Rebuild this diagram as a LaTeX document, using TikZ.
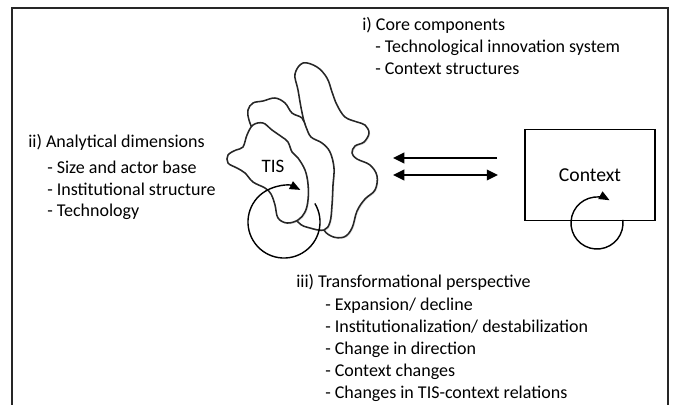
\documentclass[tikz,border=0pt]{standalone}
\usepackage{fontspec}
\setmainfont{Carlito}
\usetikzlibrary{arrows.meta,shadows}

\tikzset{
  txt/.style={anchor=base west,inner sep=0pt,font=\fontsize{12.8}{15}\selectfont},
  blob/.style={draw=black!85,line width=1.1pt,fill=white,
    drop shadow={shadow xshift=0.8pt,shadow yshift=-0.8pt,opacity=0.25}},
  link/.style={line width=1.4pt},
  cyc/.style={line width=1pt,-{Triangle[length=7.5pt,width=6pt]}}
}

\begin{document}
\begin{tikzpicture}[x=0.025cm,y=-0.025cm,>={Triangle[length=8pt,width=7.5pt]}]
  \useasboundingbox (0,0) rectangle (673,404);
  % frame, open at the bottom
  \draw[line width=1.2pt,black!85] (12,420) -- (12,8) -- (668,8) -- (668,420);

  % blobs, back to front
  \draw[blob] plot[smooth cycle,tension=0.6] coordinates {(303,63) (317,67) (327,78) (332,92) (337,105) (345,117)
    (357,122) (365,125) (369,133) (364,142) (355,146) (352,153) (357,159) (370,165) (377,176) (375,190)
    (365,199) (357,211) (352,228) (344,237) (331,236) (322,225) (318,190) (314,160) (303,117) (298,90) (295,74)};
  \draw[blob] plot[smooth cycle,tension=0.6] coordinates {(249,120) (248,110) (253,103) (263,101) (275,98) (285,103)
    (292,113) (302,118) (306,127) (311,137) (322,143) (330,152) (334,168) (333,185) (332,205) (330,222)
    (324,230) (310,228) (298,222) (285,200) (270,170) (255,135)};
  \draw[blob] plot[smooth cycle,tension=0.6] coordinates {(247,135) (253,125) (263,123) (272,130) (282,137) (288,142)
    (292,152) (298,158) (305,170) (308,184) (308,200) (305,212) (298,220) (287,223) (278,218) (275,205)
    (271,194) (265,188) (253,182) (245,173) (237,168) (228,163) (228,155) (236,150) (243,147)};
  \node[font=\fontsize{13.5}{15}\selectfont] (tis) at (273,166) {TIS};

  % context
  \node[draw,line width=0.9pt,minimum width=3.25cm,minimum height=2.275cm,
    font=\fontsize{14}{16}\selectfont] (ctx) at (590,175) {Context};

  % self loops
  \coordinate (tisc) at (284,222);
  \coordinate (ctxc) at (597,223);
  \draw[cyc] (tisc) ++(31:0.9cm) arc[start angle=31,end angle=-297,radius=0.9cm];
  \draw[cyc] (ctxc) ++(7:0.65cm) arc[start angle=7,end angle=-299,radius=0.65cm];

  % links
  \coordinate (in1) at (497,158);
  \coordinate (out1) at (393,158);
  \coordinate (in2) at (393,175);
  \coordinate (out2) at (498,175);
  \draw[link,->] (in1) -- (out1);
  \draw[link,<->] (in2) -- (out2);

  % texts
  \node[txt] (core) at (362,30) {i) Core components};
  \node[txt] (core1) at (375,52) {- Technological innovation system};
  \node[txt] (core2) at (375,74) {- Context structures};

  \node[txt] (dim) at (28,147) {ii) Analytical dimensions};
  \foreach \t [count=\i] in {Size and actor base,Institutional structure,Technology}
    \node[txt] (dim\i) at (47,152+\i*21.5) {- \t};

  \node[txt] (tp) at (296,287) {iii) Transformational perspective};
  \foreach \t [count=\i] in {Expansion/ decline,Institutionalization/ destabilization,Change in direction,
      Context changes,Changes in TIS-context relations}
    \node[txt] (tp\i) at (325,288+\i*22) {- \t};
\end{tikzpicture}
\end{document}
